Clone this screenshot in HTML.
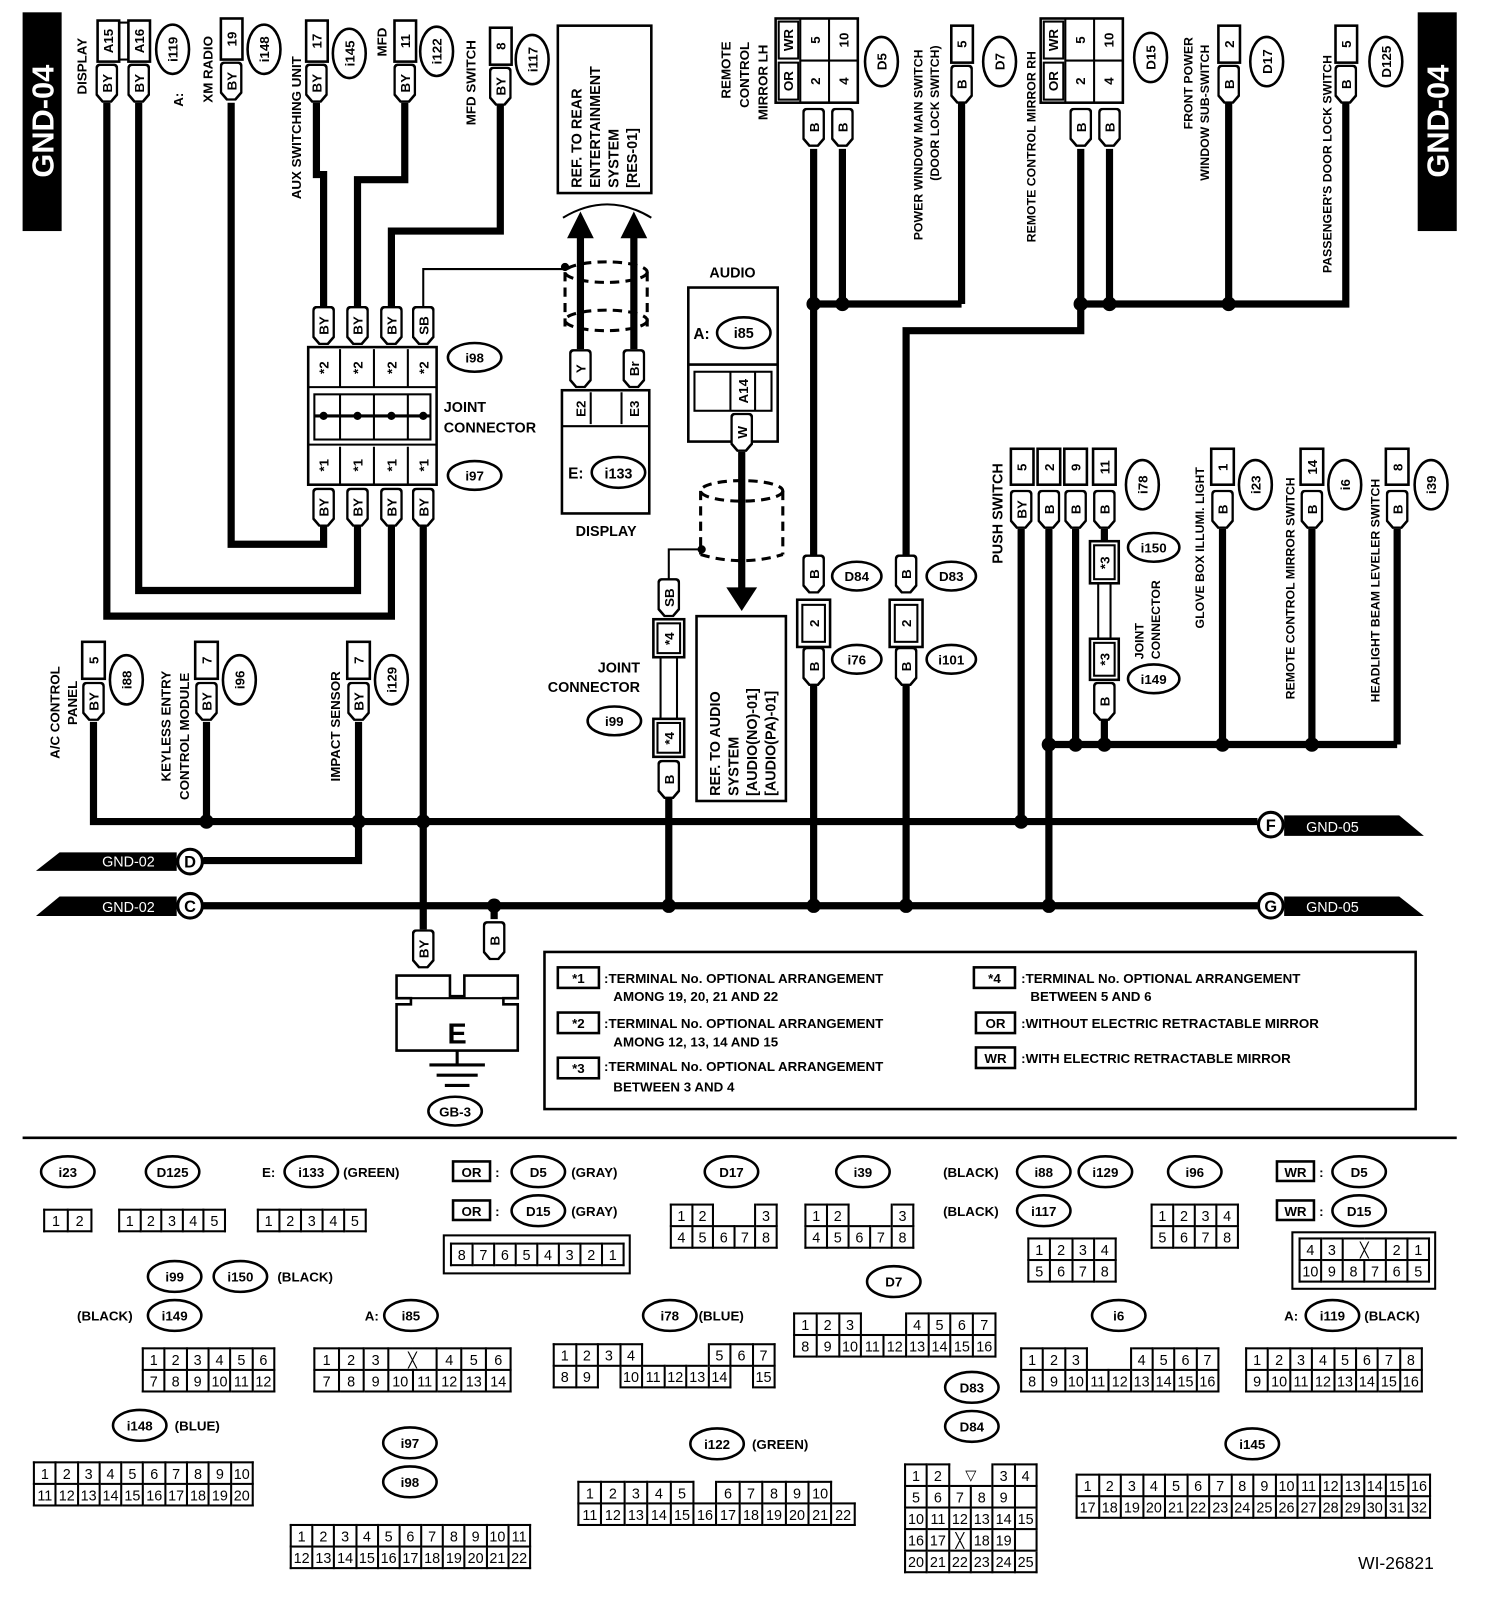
<!DOCTYPE html>
<html><head><meta charset="utf-8">
<style>
html,body{margin:0;padding:0;background:#fff;width:1504px;height:1602px;overflow:hidden}
#root{position:absolute;left:0;top:0;width:1464px;height:1560px;transform:scale(1.02732,1.02692);transform-origin:0 0}
svg{position:absolute;left:0;top:0}
text{font-family:"Liberation Sans",sans-serif;font-weight:bold;font-size:13px;fill:#000}
.w{stroke:#000;stroke-width:7;fill:none}
.t{stroke:#000;stroke-width:2;fill:none}
.b{stroke:#000;stroke-width:2.5;fill:#fff}
.d{stroke:#000;stroke-width:3;fill:none;stroke-dasharray:9 6}
table.c{position:absolute;border-collapse:collapse;font-family:"Liberation Sans",sans-serif;font-size:14px;table-layout:fixed}
table.c td{border:2px solid #000;height:19px;padding:0;text-align:center;line-height:18px;background:#fff}
table.c td.g{border-top:none;border-bottom:none}
</style></head><body><div id="root">
<svg width="1464" height="1560" viewBox="0 0 1464 1560">
<defs>
<symbol id="hx" viewBox="0 0 22 38" width="22" height="38"><path d="M1 5 Q1 1 5 1 L17 1 Q21 1 21 5 L21 30 L15 37 L7 37 L1 30 Z" fill="#fff" stroke="#000" stroke-width="2.5"/></symbol>
</defs>
<rect x="22" y="12" width="38" height="213" fill="#000"/>
<text transform="translate(52,118) rotate(-90)" text-anchor="middle" style="font-size:30px;fill:#fff">GND-04</text>
<rect x="1380" y="12" width="38" height="213" fill="#000"/>
<text transform="translate(1410,118) rotate(-90)" text-anchor="middle" style="font-size:30px;fill:#fff">GND-04</text>

<path class="w" d="M104 100V600H381V512M135 100V575H348V512M225 100V530H315V512M308 100V170H315V298M394 100V175H348V298M487 100V225H381V298M412 512V905M481 880V895"/>
<path class="t" d="M412 298V262H550"/>
<circle cx="550" cy="260" r="4"/>
<path class="w" d="M565 340V228M617 340V228"/>
<polygon points="552,232 565,206 578,232"/><polygon points="604,232 617,206 630,232"/>
<path class="t" d="M548 212 Q591 186 634 212"/>
<ellipse class="d" cx="590" cy="265" rx="40" ry="10"/><ellipse class="d" cx="590" cy="312" rx="40" ry="10"/>
<path class="d" d="M550 265V318M630 265V318"/>
<path class="w" d="M722 440V578"/><polygon points="707,572 737,572 722,595"/>
<ellipse class="d" cx="722" cy="478" rx="40" ry="10"/><path class="d" d="M682 478V540M762 478V540"/><path class="d" d="M682 540Q722 552 762 540"/>
<path class="t" d="M683 535H651V565"/><circle cx="683" cy="535" r="4"/>
<path class="w" d="M651 775V882"/>
<path class="w" d="M792 145V540M820 145V296M936 100V296M792 296H936M792 665V882M882 665V882M1052 145V322H882V540M1080 145V296M1052 296H1310V100M1196 100V296"/>
<path class="w" d="M994 515V800M1021 515V882M1047 515V725M1075 515V528M1075 700V725M1190 515V725M1277 515V725M1360 515V725M1021 725H1360"/>
<path class="w" d="M91 703V800H1224M201 703V800M349 703V838H198M198 882H1224"/>
<g>
<circle cx="792" cy="296" r="7"/><circle cx="820" cy="296" r="7"/><circle cx="1052" cy="296" r="7"/><circle cx="1080" cy="296" r="7"/><circle cx="1196" cy="296" r="7"/>
<circle cx="201" cy="800" r="7"/><circle cx="349" cy="800" r="7"/><circle cx="412" cy="800" r="7"/><circle cx="994" cy="800" r="7"/>
<circle cx="481" cy="882" r="7"/><circle cx="651" cy="882" r="7"/><circle cx="792" cy="882" r="7"/><circle cx="882" cy="882" r="7"/><circle cx="1021" cy="882" r="7"/>
<circle cx="1021" cy="725" r="7"/><circle cx="1047" cy="725" r="7"/><circle cx="1075" cy="725" r="7"/><circle cx="1190" cy="725" r="7"/><circle cx="1277" cy="725" r="7"/>
</g>

<rect class="b" x="95" y="20" width="21" height="40"/><rect class="b" x="125" y="20" width="21" height="40"/><rect x="116" y="22" width="9" height="36" fill="none" stroke="#000" stroke-width="2"/>
<text transform="translate(110,40) rotate(-90)" text-anchor="middle">A15</text><text transform="translate(140,40) rotate(-90)" text-anchor="middle">A16</text>
<rect class="b" x="215" y="18" width="21" height="40"/><text transform="translate(230,38) rotate(-90)" text-anchor="middle">19</text>
<rect class="b" x="298" y="20" width="21" height="40"/><text transform="translate(313,40) rotate(-90)" text-anchor="middle">17</text>
<rect class="b" x="384" y="20" width="21" height="40"/><text transform="translate(399,40) rotate(-90)" text-anchor="middle">11</text>
<rect class="b" x="477" y="27" width="21" height="36"/><text transform="translate(492,45) rotate(-90)" text-anchor="middle">8</text>
<use href="#hx" x="93" y="62"/><use href="#hx" x="124" y="62"/><use href="#hx" x="214" y="60"/><use href="#hx" x="297" y="62"/><use href="#hx" x="383" y="62"/><use href="#hx" x="476" y="65"/>
<g text-anchor="middle">
<text transform="translate(109,81) rotate(-90)">BY</text><text transform="translate(140,81) rotate(-90)">BY</text><text transform="translate(230,79) rotate(-90)">BY</text><text transform="translate(313,81) rotate(-90)">BY</text><text transform="translate(399,81) rotate(-90)">BY</text><text transform="translate(492,84) rotate(-90)">BY</text>
</g>
<text transform="translate(84,92) rotate(-90)">DISPLAY</text>
<text transform="translate(178,104) rotate(-90)">A:</text>
<text transform="translate(207,100) rotate(-90)">XM RADIO</text>
<text transform="translate(293,194) rotate(-90)">AUX SWITCHING UNIT</text>
<text transform="translate(376,55) rotate(-90)">MFD</text>
<text transform="translate(463,122) rotate(-90)">MFD SWITCH</text>
<g fill="#fff" stroke="#000" stroke-width="2.5">
<ellipse cx="168" cy="48" rx="16" ry="24"/><ellipse cx="257" cy="48" rx="16" ry="24"/><ellipse cx="340" cy="52" rx="16" ry="24"/><ellipse cx="425" cy="50" rx="16" ry="24"/><ellipse cx="518" cy="58" rx="16" ry="24"/>
<ellipse cx="858" cy="60" rx="16" ry="24"/><ellipse cx="973" cy="60" rx="16" ry="24"/><ellipse cx="1120" cy="56" rx="16" ry="24"/><ellipse cx="1233" cy="60" rx="16" ry="24"/><ellipse cx="1349" cy="60" rx="16" ry="24"/>
<ellipse cx="1112" cy="472" rx="16" ry="24"/><ellipse cx="1222" cy="472" rx="16" ry="24"/><ellipse cx="1309" cy="472" rx="16" ry="24"/><ellipse cx="1393" cy="472" rx="16" ry="24"/>
<ellipse cx="123" cy="662" rx="16" ry="24"/><ellipse cx="233" cy="662" rx="16" ry="24"/><ellipse cx="381" cy="662" rx="16" ry="24"/>
</g>
<g text-anchor="middle">
<text transform="translate(173,48) rotate(-90)">i119</text><text transform="translate(262,48) rotate(-90)">i148</text><text transform="translate(345,52) rotate(-90)">i145</text><text transform="translate(430,50) rotate(-90)">i122</text><text transform="translate(523,58) rotate(-90)">i117</text>
<text transform="translate(863,60) rotate(-90)">D5</text><text transform="translate(978,60) rotate(-90)">D7</text><text transform="translate(1125,56) rotate(-90)">D15</text><text transform="translate(1238,60) rotate(-90)">D17</text><text transform="translate(1354,60) rotate(-90)">D125</text>
<text transform="translate(1117,472) rotate(-90)">i78</text><text transform="translate(1227,472) rotate(-90)">i23</text><text transform="translate(1314,472) rotate(-90)">i6</text><text transform="translate(1398,472) rotate(-90)">i39</text>
<text transform="translate(128,662) rotate(-90)">i88</text><text transform="translate(238,662) rotate(-90)">i96</text><text transform="translate(386,662) rotate(-90)">i129</text>
</g>

<rect class="b" x="300" y="338" width="125" height="134"/>
<g fill="none" stroke="#000" stroke-width="2">
<path d="M331 340V377M364 340V377M397 340V377M300 377H425M300 433H425M331 435V472M364 435V472M397 435V472"/>
<rect x="306" y="384" width="113" height="44"/>
</g>
<path d="M306 405H419" stroke="#000" stroke-width="3"/>
<circle cx="315" cy="405" r="4"/><circle cx="348" cy="405" r="4"/><circle cx="381" cy="405" r="4"/><circle cx="412" cy="405" r="4"/>
<path d="M331 384V428M364 384V428M397 384V428" stroke="#000" stroke-width="2"/>
<g text-anchor="middle">
<text transform="translate(320,358) rotate(-90)">*2</text><text transform="translate(353,358) rotate(-90)">*2</text><text transform="translate(386,358) rotate(-90)">*2</text><text transform="translate(417,358) rotate(-90)">*2</text>
<text transform="translate(320,453) rotate(-90)">*1</text><text transform="translate(353,453) rotate(-90)">*1</text><text transform="translate(386,453) rotate(-90)">*1</text><text transform="translate(417,453) rotate(-90)">*1</text>
</g>
<use href="#hx" x="304" y="298"/><use href="#hx" x="337" y="298"/><use href="#hx" x="370" y="298"/><use href="#hx" x="401" y="298"/>
<use href="#hx" x="304" y="475"/><use href="#hx" x="337" y="475"/><use href="#hx" x="370" y="475"/><use href="#hx" x="401" y="475"/>
<g text-anchor="middle">
<text transform="translate(320,317) rotate(-90)">BY</text><text transform="translate(353,317) rotate(-90)">BY</text><text transform="translate(386,317) rotate(-90)">BY</text><text transform="translate(417,317) rotate(-90)">SB</text>
<text transform="translate(320,494) rotate(-90)">BY</text><text transform="translate(353,494) rotate(-90)">BY</text><text transform="translate(386,494) rotate(-90)">BY</text><text transform="translate(417,494) rotate(-90)">BY</text>
</g>
<ellipse class="b" cx="462" cy="348" rx="26" ry="14"/><text x="462" y="353" text-anchor="middle">i98</text>
<ellipse class="b" cx="462" cy="463" rx="26" ry="14"/><text x="462" y="468" text-anchor="middle">i97</text>
<text x="432" y="401" style="font-size:14px">JOINT</text><text x="432" y="421" style="font-size:14px">CONNECTOR</text>

<rect class="b" x="543" y="25" width="91" height="163"/>
<text transform="translate(566,183) rotate(-90)" style="font-size:14px">REF. TO REAR</text>
<text transform="translate(584,183) rotate(-90)" style="font-size:14px">ENTERTAINMENT</text>
<text transform="translate(602,183) rotate(-90)" style="font-size:14px">SYSTEM</text>
<text transform="translate(620,183) rotate(-90)" style="font-size:14px">[RES-01]</text>
<use href="#hx" x="554" y="340"/><use href="#hx" x="606" y="340"/>
<text transform="translate(570,359) rotate(-90)" text-anchor="middle">Y</text><text transform="translate(622,359) rotate(-90)" text-anchor="middle">Br</text>
<rect class="b" x="547" y="380" width="85" height="120"/>
<path d="M547 415H632M575 382V413M605 382V413" stroke="#000" stroke-width="2"/>
<text transform="translate(570,398) rotate(-90)" text-anchor="middle">E2</text><text transform="translate(622,398) rotate(-90)" text-anchor="middle">E3</text>
<text x="553" y="466" style="font-size:15px">E:</text>
<ellipse class="b" cx="602" cy="460" rx="26" ry="15"/><text x="602" y="466" text-anchor="middle" style="font-size:14px">i133</text>
<text x="590" y="522" text-anchor="middle" style="font-size:14px">DISPLAY</text>
<text x="713" y="270" text-anchor="middle" style="font-size:14px">AUDIO</text>
<rect class="b" x="670" y="280" width="87" height="150"/>
<path d="M670 355H757" stroke="#000" stroke-width="2.5"/>
<rect x="676" y="362" width="75" height="38" fill="none" stroke="#000" stroke-width="2"/>
<path d="M711 362V400M735 362V400" stroke="#000" stroke-width="2"/>
<text transform="translate(728,381) rotate(-90)" text-anchor="middle">A14</text>
<text x="675" y="330" style="font-size:15px">A:</text>
<ellipse class="b" cx="724" cy="324" rx="26" ry="15"/><text x="724" y="329" text-anchor="middle" style="font-size:14px">i85</text>
<use href="#hx" x="711" y="402"/><text transform="translate(727,421) rotate(-90)" text-anchor="middle">W</text>
<rect class="b" x="678" y="600" width="87" height="180"/>
<text transform="translate(701,775) rotate(-90)" style="font-size:14px">REF. TO AUDIO</text>
<text transform="translate(719,775) rotate(-90)" style="font-size:14px">SYSTEM</text>
<text transform="translate(737,775) rotate(-90)" style="font-size:14px">[AUDIO(NO)-01]</text>
<text transform="translate(755,775) rotate(-90)" style="font-size:14px">[AUDIO(PA)-01]</text>
<use href="#hx" x="640" y="563"/><text transform="translate(656,582) rotate(-90)" text-anchor="middle">SB</text>
<rect class="b" x="636" y="603" width="30" height="37"/><rect x="640" y="607" width="22" height="29" fill="none" stroke="#000" stroke-width="2"/>
<path d="M643 640V700M659 640V700" stroke="#000" stroke-width="2"/>
<rect class="b" x="636" y="700" width="30" height="37"/><rect x="640" y="704" width="22" height="29" fill="none" stroke="#000" stroke-width="2"/>
<text transform="translate(656,622) rotate(-90)" text-anchor="middle">*4</text><text transform="translate(656,719) rotate(-90)" text-anchor="middle">*4</text>
<use href="#hx" x="640" y="740"/><text transform="translate(656,759) rotate(-90)" text-anchor="middle">B</text>
<text x="623" y="655" text-anchor="end" style="font-size:14px">JOINT</text><text x="623" y="674" text-anchor="end" style="font-size:14px">CONNECTOR</text>
<ellipse class="b" cx="598" cy="702" rx="26" ry="14"/><text x="598" y="707" text-anchor="middle">i99</text>

<rect class="b" x="755" y="18" width="80" height="82"/>
<g fill="none" stroke="#000" stroke-width="2"><rect x="758" y="21" width="19" height="36"/><rect x="758" y="61" width="19" height="36"/><path d="M779 18V100M807 18V100M779 59H835"/></g>
<g text-anchor="middle"><text transform="translate(772,39) rotate(-90)">WR</text><text transform="translate(772,79) rotate(-90)">OR</text><text transform="translate(798,39) rotate(-90)">5</text><text transform="translate(826,39) rotate(-90)">10</text><text transform="translate(798,79) rotate(-90)">2</text><text transform="translate(826,79) rotate(-90)">4</text></g>
<use href="#hx" x="781" y="105"/><use href="#hx" x="809" y="105"/>
<text transform="translate(797,124) rotate(-90)" text-anchor="middle">B</text><text transform="translate(825,124) rotate(-90)" text-anchor="middle">B</text>
<text transform="translate(711,96) rotate(-90)">REMOTE</text><text transform="translate(729,105) rotate(-90)">CONTROL</text><text transform="translate(747,117) rotate(-90)">MIRROR LH</text>
<rect class="b" x="926" y="25" width="21" height="36"/><text transform="translate(941,43) rotate(-90)" text-anchor="middle">5</text>
<use href="#hx" x="925" y="63"/><text transform="translate(941,82) rotate(-90)" text-anchor="middle">B</text>
<text transform="translate(898,234) rotate(-90)" style="font-size:12px">POWER WINDOW MAIN SWITCH</text>
<text transform="translate(914,176) rotate(-90)" style="font-size:12px">(DOOR LOCK SWITCH)</text>
<rect class="b" x="1013" y="18" width="80" height="82"/>
<g fill="none" stroke="#000" stroke-width="2"><rect x="1016" y="21" width="19" height="36"/><rect x="1016" y="61" width="19" height="36"/><path d="M1037 18V100M1065 18V100M1037 59H1093"/></g>
<g text-anchor="middle"><text transform="translate(1030,39) rotate(-90)">WR</text><text transform="translate(1030,79) rotate(-90)">OR</text><text transform="translate(1056,39) rotate(-90)">5</text><text transform="translate(1084,39) rotate(-90)">10</text><text transform="translate(1056,79) rotate(-90)">2</text><text transform="translate(1084,79) rotate(-90)">4</text></g>
<use href="#hx" x="1041" y="105"/><use href="#hx" x="1069" y="105"/>
<text transform="translate(1057,124) rotate(-90)" text-anchor="middle">B</text><text transform="translate(1085,124) rotate(-90)" text-anchor="middle">B</text>
<text transform="translate(1008,236) rotate(-90)" style="font-size:12px">REMOTE CONTROL MIRROR RH</text>
<rect class="b" x="1186" y="25" width="21" height="36"/><text transform="translate(1201,43) rotate(-90)" text-anchor="middle">2</text>
<use href="#hx" x="1185" y="63"/><text transform="translate(1201,82) rotate(-90)" text-anchor="middle">B</text>
<text transform="translate(1161,126) rotate(-90)" style="font-size:12px">FRONT POWER</text>
<text transform="translate(1177,176) rotate(-90)" style="font-size:12px">WINDOW SUB-SWITCH</text>
<rect class="b" x="1300" y="25" width="21" height="36"/><text transform="translate(1315,43) rotate(-90)" text-anchor="middle">5</text>
<use href="#hx" x="1299" y="63"/><text transform="translate(1315,82) rotate(-90)" text-anchor="middle">B</text>
<text transform="translate(1296,266) rotate(-90)" style="font-size:12px">PASSENGER'S DOOR LOCK SWITCH</text>

<use href="#hx" x="781" y="540"/><text transform="translate(797,559) rotate(-90)" text-anchor="middle">B</text>
<rect class="b" x="776" y="584" width="32" height="46"/><rect x="781" y="589" width="22" height="36" fill="none" stroke="#000" stroke-width="2"/><text transform="translate(797,607) rotate(-90)" text-anchor="middle">2</text>
<use href="#hx" x="781" y="630"/><text transform="translate(797,649) rotate(-90)" text-anchor="middle">B</text>
<use href="#hx" x="871" y="540"/><text transform="translate(887,559) rotate(-90)" text-anchor="middle">B</text>
<rect class="b" x="866" y="584" width="32" height="46"/><rect x="871" y="589" width="22" height="36" fill="none" stroke="#000" stroke-width="2"/><text transform="translate(887,607) rotate(-90)" text-anchor="middle">2</text>
<use href="#hx" x="871" y="630"/><text transform="translate(887,649) rotate(-90)" text-anchor="middle">B</text>
<g fill="#fff" stroke="#000" stroke-width="2.5"><ellipse cx="834" cy="561" rx="24" ry="14"/><ellipse cx="834" cy="642" rx="24" ry="14"/><ellipse cx="926" cy="561" rx="24" ry="14"/><ellipse cx="926" cy="642" rx="24" ry="14"/></g>
<g text-anchor="middle"><text x="834" y="566">D84</text><text x="834" y="647">i76</text><text x="926" y="566">D83</text><text x="926" y="647">i101</text></g>

<rect class="b" x="984" y="437" width="22" height="35"/><rect class="b" x="1010" y="437" width="22" height="35"/><rect class="b" x="1036" y="437" width="22" height="35"/><rect class="b" x="1064" y="437" width="22" height="35"/>
<g text-anchor="middle"><text transform="translate(999,455) rotate(-90)">5</text><text transform="translate(1026,455) rotate(-90)">2</text><text transform="translate(1052,455) rotate(-90)">9</text><text transform="translate(1080,455) rotate(-90)">11</text></g>
<use href="#hx" x="983" y="477"/><use href="#hx" x="1010" y="477"/><use href="#hx" x="1036" y="477"/><use href="#hx" x="1064" y="477"/>
<g text-anchor="middle"><text transform="translate(999,496) rotate(-90)">BY</text><text transform="translate(1026,496) rotate(-90)">B</text><text transform="translate(1052,496) rotate(-90)">B</text><text transform="translate(1080,496) rotate(-90)">B</text></g>
<text transform="translate(976,549) rotate(-90)" style="font-size:14px">PUSH SWITCH</text>
<rect class="b" x="1061" y="527" width="28" height="41"/><rect x="1065" y="531" width="20" height="33" fill="none" stroke="#000" stroke-width="2"/>
<path d="M1069 568V622M1081 568V622" stroke="#000" stroke-width="2"/>
<rect class="b" x="1061" y="622" width="28" height="40"/><rect x="1065" y="626" width="20" height="32" fill="none" stroke="#000" stroke-width="2"/>
<text transform="translate(1080,548) rotate(-90)" text-anchor="middle">*3</text><text transform="translate(1080,642) rotate(-90)" text-anchor="middle">*3</text>
<use href="#hx" x="1064" y="664"/><text transform="translate(1080,683) rotate(-90)" text-anchor="middle">B</text>
<ellipse class="b" cx="1123" cy="533" rx="25" ry="14"/><text x="1123" y="538" text-anchor="middle">i150</text>
<ellipse class="b" cx="1123" cy="661" rx="25" ry="14"/><text x="1123" y="666" text-anchor="middle">i149</text>
<text transform="translate(1113,642) rotate(-90)" style="font-size:12px">JOINT</text><text transform="translate(1129,642) rotate(-90)" style="font-size:12px">CONNECTOR</text>
<rect class="b" x="1179" y="437" width="22" height="35"/><text transform="translate(1195,455) rotate(-90)" text-anchor="middle">1</text>
<use href="#hx" x="1179" y="477"/><text transform="translate(1195,496) rotate(-90)" text-anchor="middle">B</text>
<text transform="translate(1172,612) rotate(-90)" style="font-size:12px">GLOVE BOX ILLUMI. LIGHT</text>
<rect class="b" x="1266" y="437" width="22" height="35"/><text transform="translate(1282,455) rotate(-90)" text-anchor="middle">14</text>
<use href="#hx" x="1266" y="477"/><text transform="translate(1282,496) rotate(-90)" text-anchor="middle">B</text>
<text transform="translate(1260,681) rotate(-90)" style="font-size:12px">REMOTE CONTROL MIRROR SWITCH</text>
<rect class="b" x="1349" y="437" width="22" height="35"/><text transform="translate(1365,455) rotate(-90)" text-anchor="middle">8</text>
<use href="#hx" x="1349" y="477"/><text transform="translate(1365,496) rotate(-90)" text-anchor="middle">B</text>
<text transform="translate(1343,684) rotate(-90)" style="font-size:12px">HEADLIGHT BEAM LEVELER SWITCH</text>

<rect class="b" x="80" y="625" width="22" height="36"/><text transform="translate(96,643) rotate(-90)" text-anchor="middle">5</text>
<use href="#hx" x="80" y="664"/><text transform="translate(96,683) rotate(-90)" text-anchor="middle">BY</text>
<rect class="b" x="190" y="625" width="22" height="36"/><text transform="translate(206,643) rotate(-90)" text-anchor="middle">7</text>
<use href="#hx" x="190" y="664"/><text transform="translate(206,683) rotate(-90)" text-anchor="middle">BY</text>
<rect class="b" x="338" y="625" width="22" height="36"/><text transform="translate(354,643) rotate(-90)" text-anchor="middle">7</text>
<use href="#hx" x="338" y="664"/><text transform="translate(354,683) rotate(-90)" text-anchor="middle">BY</text>
<text transform="translate(58,739) rotate(-90)" style="font-size:13px">A/C CONTROL</text><text transform="translate(75,706) rotate(-90)" style="font-size:13px">PANEL</text>
<text transform="translate(166,761) rotate(-90)" style="font-size:13px">KEYLESS ENTRY</text><text transform="translate(184,779) rotate(-90)" style="font-size:13px">CONTROL MODULE</text>
<text transform="translate(331,761) rotate(-90)" style="font-size:13px">IMPACT SENSOR</text>

<polygon points="35,848 58,830 172,830 172,848"/><text x="125" y="844" text-anchor="middle" style="fill:#fff;font-weight:normal;font-size:14px">GND-02</text>
<circle cx="185" cy="839" r="12" fill="#fff" stroke="#000" stroke-width="3"/><text x="185" y="845" text-anchor="middle" style="font-size:16px">D</text>
<polygon points="35,892 58,873 172,873 172,892"/><text x="125" y="888" text-anchor="middle" style="fill:#fff;font-weight:normal;font-size:14px">GND-02</text>
<circle cx="185" cy="882" r="12" fill="#fff" stroke="#000" stroke-width="3"/><text x="185" y="888" text-anchor="middle" style="font-size:16px">C</text>
<polygon points="1250,794 1362,794 1386,814 1250,814"/><text x="1297" y="810" text-anchor="middle" style="fill:#fff;font-weight:normal;font-size:14px">GND-05</text>
<circle cx="1237" cy="803" r="12" fill="#fff" stroke="#000" stroke-width="3"/><text x="1237" y="809" text-anchor="middle" style="font-size:16px">F</text>
<polygon points="1250,873 1362,873 1386,892 1250,892"/><text x="1297" y="888" text-anchor="middle" style="fill:#fff;font-weight:normal;font-size:14px">GND-05</text>
<circle cx="1237" cy="882" r="12" fill="#fff" stroke="#000" stroke-width="3"/><text x="1237" y="888" text-anchor="middle" style="font-size:16px">G</text>

<use href="#hx" x="401" y="905"/><text transform="translate(417,924) rotate(-90)" text-anchor="middle">BY</text>
<use href="#hx" x="470" y="897"/><text transform="translate(486,916) rotate(-90)" text-anchor="middle">B</text>
<path d="M386 950H438V970H452V950H504V972H490V978H504V1023H386V978H400V972H386Z" fill="#fff" stroke="#000" stroke-width="2.5"/>
<path d="M386 972H504" stroke="#000" stroke-width="2"/>
<text x="445" y="1016" text-anchor="middle" style="font-size:28px">E</text>
<path d="M445 1023V1036M418 1037H472M425 1047H465M433 1057H457" stroke="#000" stroke-width="3"/>
<ellipse class="b" cx="443" cy="1082" rx="26" ry="14"/><text x="443" y="1087" text-anchor="middle">GB-3</text>

<rect x="530" y="927" width="848" height="153" fill="none" stroke="#000" stroke-width="2.5"/>
<g style="font-size:14px">
<rect class="b" x="543" y="942" width="40" height="20"/><text x="563" y="957" text-anchor="middle">*1</text>
<text x="588" y="957">:TERMINAL No. OPTIONAL ARRANGEMENT</text><text x="597" y="975">AMONG 19, 20, 21 AND 22</text>
<rect class="b" x="543" y="986" width="40" height="20"/><text x="563" y="1001" text-anchor="middle">*2</text>
<text x="588" y="1001">:TERMINAL No. OPTIONAL ARRANGEMENT</text><text x="597" y="1019">AMONG 12, 13, 14 AND 15</text>
<rect class="b" x="543" y="1030" width="40" height="20"/><text x="563" y="1045" text-anchor="middle">*3</text>
<text x="588" y="1043">:TERMINAL No. OPTIONAL ARRANGEMENT</text><text x="597" y="1063">BETWEEN 3 AND 4</text>
<rect class="b" x="948" y="942" width="40" height="20"/><text x="968" y="957" text-anchor="middle">*4</text>
<text x="994" y="957">:TERMINAL No. OPTIONAL ARRANGEMENT</text><text x="1003" y="975">BETWEEN 5 AND 6</text>
<rect class="b" x="950" y="986" width="38" height="20"/><text x="969" y="1001" text-anchor="middle">OR</text>
<text x="994" y="1001">:WITHOUT ELECTRIC RETRACTABLE MIRROR</text>
<rect class="b" x="950" y="1020" width="38" height="20"/><text x="969" y="1035" text-anchor="middle">WR</text>
<text x="994" y="1035">:WITH ELECTRIC RETRACTABLE MIRROR</text>
</g>
<path d="M22 1108H1418" stroke="#000" stroke-width="2.5"/>

<g fill="#fff" stroke="#000" stroke-width="2.5">
<ellipse cx="66" cy="1141" rx="26" ry="15"/><ellipse cx="168" cy="1141" rx="26" ry="15"/><ellipse cx="303" cy="1141" rx="26" ry="15"/>
<ellipse cx="524" cy="1141" rx="26" ry="15"/><ellipse cx="524" cy="1179" rx="26" ry="15"/>
<ellipse cx="712" cy="1141" rx="26" ry="15"/><ellipse cx="840" cy="1141" rx="26" ry="15"/>
<ellipse cx="1016" cy="1141" rx="26" ry="15"/><ellipse cx="1076" cy="1141" rx="26" ry="15"/><ellipse cx="1016" cy="1179" rx="26" ry="15"/>
<ellipse cx="1163" cy="1141" rx="26" ry="15"/><ellipse cx="1323" cy="1141" rx="26" ry="15"/><ellipse cx="1323" cy="1179" rx="26" ry="15"/>
<ellipse cx="170" cy="1243" rx="26" ry="15"/><ellipse cx="234" cy="1243" rx="26" ry="15"/><ellipse cx="170" cy="1281" rx="26" ry="15"/>
<ellipse cx="400" cy="1281" rx="26" ry="15"/><ellipse cx="652" cy="1281" rx="26" ry="15"/><ellipse cx="870" cy="1248" rx="26" ry="15"/>
<ellipse cx="1089" cy="1281" rx="26" ry="15"/><ellipse cx="1297" cy="1281" rx="26" ry="15"/>
<ellipse cx="136" cy="1388" rx="26" ry="15"/><ellipse cx="399" cy="1405" rx="26" ry="15"/><ellipse cx="399" cy="1443" rx="26" ry="15"/>
<ellipse cx="698" cy="1406" rx="26" ry="15"/><ellipse cx="946" cy="1351" rx="26" ry="15"/><ellipse cx="946" cy="1389" rx="26" ry="15"/><ellipse cx="1219" cy="1406" rx="26" ry="15"/>
</g>
<g text-anchor="middle" style="font-size:14px">
<text x="66" y="1146">i23</text><text x="168" y="1146">D125</text><text x="303" y="1146">i133</text>
<text x="524" y="1146">D5</text><text x="524" y="1184">D15</text>
<text x="712" y="1146">D17</text><text x="840" y="1146">i39</text>
<text x="1016" y="1146">i88</text><text x="1076" y="1146">i129</text><text x="1016" y="1184">i117</text>
<text x="1163" y="1146">i96</text><text x="1323" y="1146">D5</text><text x="1323" y="1184">D15</text>
<text x="170" y="1248">i99</text><text x="234" y="1248">i150</text><text x="170" y="1286">i149</text>
<text x="400" y="1286">i85</text><text x="652" y="1286">i78</text><text x="870" y="1253">D7</text>
<text x="1089" y="1286">i6</text><text x="1297" y="1286">i119</text>
<text x="136" y="1393">i148</text><text x="399" y="1410">i97</text><text x="399" y="1448">i98</text>
<text x="698" y="1411">i122</text><text x="946" y="1356">D83</text><text x="946" y="1394">D84</text><text x="1219" y="1411">i145</text>
</g>
<g style="font-size:14px">
<text x="255" y="1146">E:</text><text x="334" y="1146">(GREEN)</text>
<rect class="b" x="441" y="1131" width="36" height="19"/><text x="459" y="1146" text-anchor="middle">OR</text><text x="482" y="1146">:</text><text x="556" y="1146">(GRAY)</text>
<rect class="b" x="441" y="1169" width="36" height="19"/><text x="459" y="1184" text-anchor="middle">OR</text><text x="482" y="1184">:</text><text x="556" y="1184">(GRAY)</text>
<text x="918" y="1146">(BLACK)</text><text x="918" y="1184">(BLACK)</text>
<rect class="b" x="1243" y="1131" width="36" height="19"/><text x="1261" y="1146" text-anchor="middle">WR</text><text x="1284" y="1146">:</text>
<rect class="b" x="1243" y="1169" width="36" height="19"/><text x="1261" y="1184" text-anchor="middle">WR</text><text x="1284" y="1184">:</text>
<text x="270" y="1248">(BLACK)</text><text x="75" y="1286">(BLACK)</text>
<text x="355" y="1286">A:</text><text x="680" y="1286">(BLUE)</text>
<text x="1250" y="1286">A:</text><text x="1328" y="1286">(BLACK)</text>
<text x="170" y="1393">(BLUE)</text><text x="732" y="1411">(GREEN)</text>
<text x="1322" y="1528" style="font-weight:normal;font-size:17px">WI-26821</text>
</g>
<rect x="432" y="1203" width="181" height="37" fill="none" stroke="#000" stroke-width="2"/>
<rect x="1258" y="1200" width="139" height="55" fill="none" stroke="#000" stroke-width="2"/>
</svg>

<table class="c" style="left:42px;top:1177px;width:48px"><tr><td>1</td><td>2</td></tr></table>
<table class="c" style="left:115px;top:1177px;width:105px"><tr><td>1</td><td>2</td><td>3</td><td>4</td><td>5</td></tr></table>
<table class="c" style="left:250px;top:1177px;width:107px"><tr><td>1</td><td>2</td><td>3</td><td>4</td><td>5</td></tr></table>
<table class="c" style="left:438px;top:1210px;width:170px"><tr><td>8</td><td>7</td><td>6</td><td>5</td><td>4</td><td>3</td><td>2</td><td>1</td></tr></table>
<table class="c" style="left:652px;top:1172px;width:105px"><tr><td>1</td><td>2</td><td class="g" colspan="2"></td><td>3</td></tr><tr><td>4</td><td>5</td><td>6</td><td>7</td><td>8</td></tr></table>
<table class="c" style="left:783px;top:1172px;width:107px"><tr><td>1</td><td>2</td><td class="g" colspan="2"></td><td>3</td></tr><tr><td>4</td><td>5</td><td>6</td><td>7</td><td>8</td></tr></table>
<table class="c" style="left:1000px;top:1205px;width:87px"><tr><td>1</td><td>2</td><td>3</td><td>4</td></tr><tr><td>5</td><td>6</td><td>7</td><td>8</td></tr></table>
<table class="c" style="left:1120px;top:1172px;width:86px"><tr><td>1</td><td>2</td><td>3</td><td>4</td></tr><tr><td>5</td><td>6</td><td>7</td><td>8</td></tr></table>
<table class="c" style="left:1264px;top:1205px;width:128px"><tr><td>4</td><td>3</td><td colspan="2">╳</td><td>2</td><td>1</td></tr><tr><td>10</td><td>9</td><td>8</td><td>7</td><td>6</td><td>5</td></tr></table>
<table class="c" style="left:138px;top:1312px;width:130px"><tr><td>1</td><td>2</td><td>3</td><td>4</td><td>5</td><td>6</td></tr><tr><td>7</td><td>8</td><td>9</td><td>10</td><td>11</td><td>12</td></tr></table>
<table class="c" style="left:305px;top:1312px;width:193px"><tr><td>1</td><td>2</td><td>3</td><td colspan="2">╳</td><td>4</td><td>5</td><td>6</td></tr><tr><td>7</td><td>8</td><td>9</td><td>10</td><td>11</td><td>12</td><td>13</td><td>14</td></tr></table>
<table class="c" style="left:538px;top:1308px;width:217px"><tr><td>1</td><td>2</td><td>3</td><td>4</td><td class="g" colspan="3"></td><td>5</td><td>6</td><td>7</td></tr><tr><td>8</td><td>9</td><td class="g"></td><td>10</td><td>11</td><td>12</td><td>13</td><td>14</td><td class="g"></td><td>15</td></tr></table>
<table class="c" style="left:772px;top:1278px;width:198px"><tr><td>1</td><td>2</td><td>3</td><td class="g" colspan="2"></td><td>4</td><td>5</td><td>6</td><td>7</td></tr><tr><td>8</td><td>9</td><td>10</td><td>11</td><td>12</td><td>13</td><td>14</td><td>15</td><td>16</td></tr></table>
<table class="c" style="left:993px;top:1312px;width:194px"><tr><td>1</td><td>2</td><td>3</td><td class="g" colspan="2"></td><td>4</td><td>5</td><td>6</td><td>7</td></tr><tr><td>8</td><td>9</td><td>10</td><td>11</td><td>12</td><td>13</td><td>14</td><td>15</td><td>16</td></tr></table>
<table class="c" style="left:1212px;top:1312px;width:173px"><tr><td>1</td><td>2</td><td>3</td><td>4</td><td>5</td><td>6</td><td>7</td><td>8</td></tr><tr><td>9</td><td>10</td><td>11</td><td>12</td><td>13</td><td>14</td><td>15</td><td>16</td></tr></table>
<table class="c" style="left:32px;top:1423px;width:215px"><tr><td>1</td><td>2</td><td>3</td><td>4</td><td>5</td><td>6</td><td>7</td><td>8</td><td>9</td><td>10</td></tr><tr><td>11</td><td>12</td><td>13</td><td>14</td><td>15</td><td>16</td><td>17</td><td>18</td><td>19</td><td>20</td></tr></table>
<table class="c" style="left:282px;top:1484px;width:235px"><tr><td>1</td><td>2</td><td>3</td><td>4</td><td>5</td><td>6</td><td>7</td><td>8</td><td>9</td><td>10</td><td>11</td></tr><tr><td>12</td><td>13</td><td>14</td><td>15</td><td>16</td><td>17</td><td>18</td><td>19</td><td>20</td><td>21</td><td>22</td></tr></table>
<table class="c" style="left:562px;top:1442px;width:271px"><tr><td>1</td><td>2</td><td>3</td><td>4</td><td>5</td><td class="g"></td><td>6</td><td>7</td><td>8</td><td>9</td><td>10</td></tr><tr><td>11</td><td>12</td><td>13</td><td>14</td><td>15</td><td>16</td><td>17</td><td>18</td><td>19</td><td>20</td><td>21</td><td>22</td></tr></table>
<table class="c" style="left:880px;top:1425px;width:130px"><tr><td>1</td><td>2</td><td class="g" colspan="2">▽</td><td>3</td><td>4</td></tr><tr><td>5</td><td>6</td><td>7</td><td>8</td><td>9</td><td class="g"></td></tr><tr><td>10</td><td>11</td><td>12</td><td>13</td><td>14</td><td>15</td></tr><tr><td>16</td><td>17</td><td>╳</td><td>18</td><td>19</td><td class="g"></td></tr><tr><td>20</td><td>21</td><td>22</td><td>23</td><td>24</td><td>25</td></tr></table>
<table class="c" style="left:1047px;top:1435px;width:346px"><tr><td>1</td><td>2</td><td>3</td><td>4</td><td>5</td><td>6</td><td>7</td><td>8</td><td>9</td><td>10</td><td>11</td><td>12</td><td>13</td><td>14</td><td>15</td><td>16</td></tr><tr><td>17</td><td>18</td><td>19</td><td>20</td><td>21</td><td>22</td><td>23</td><td>24</td><td>25</td><td>26</td><td>27</td><td>28</td><td>29</td><td>30</td><td>31</td><td>32</td></tr></table>
</div></body></html>
